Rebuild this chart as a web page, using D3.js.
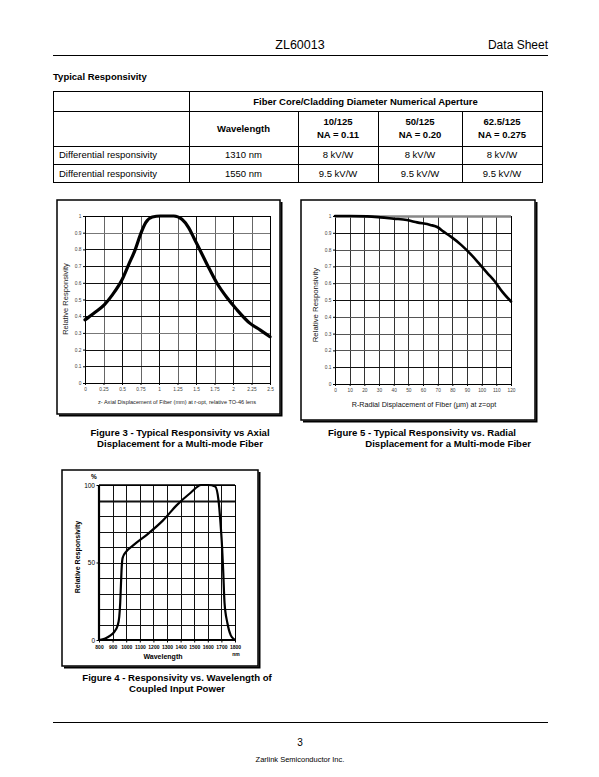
<!DOCTYPE html>
<html><head><meta charset="utf-8">
<script src="https://cdn.jsdelivr.net/npm/d3@7"></script>
<style>
html,body{margin:0;padding:0;background:#fff;}
svg{display:block;font-family:"Liberation Sans",Arial,sans-serif;}
</style></head>
<body>
<svg id="page" width="599" height="777"></svg>
<script>
// ---------- DATA ----------
const tableHeadTop = "Fiber Core/Cladding Diameter Numerical Aperture";
const tableCols = ["", "Wavelength", "10/125|NA = 0.11", "50/125|NA = 0.20", "62.5/125|NA = 0.275"];
const tableRow1 = ["Differential responsivity", "1310 nm", "8 kV/W", "8 kV/W", "8 kV/W"];
const tableRow2 = ["Differential responsivity", "1550 nm", "9.5 kV/W", "9.5 kV/W", "9.5 kV/W"];

// Figure 3: relative responsivity vs axial displacement (mm)
const fig3X = [0, 0.12, 0.26, 0.37, 0.50, 0.59, 0.68, 0.75, 0.82, 0.91, 1.02, 1.20, 1.31, 1.40, 1.47, 1.56, 1.65, 1.78, 1.92, 2.05, 2.23, 2.37, 2.50];
const fig3Y = [0.378, 0.418, 0.468, 0.528, 0.618, 0.709, 0.80, 0.89, 0.96, 0.994, 1.0, 1.0, 0.98, 0.93, 0.87, 0.79, 0.71, 0.60, 0.51, 0.44, 0.357, 0.317, 0.277];
const fig3XTicks = ["0", "0.25", "0.5", "0.75", "1", "1.25", "1.5", "1.75", "2", "2.25", "2.5"];
const fig3YTicks = ["0", "0.1", "0.2", "0.3", "0.4", "0.5", "0.6", "0.7", "0.8", "0.9", "1"];

// Figure 5: relative responsivity vs radial displacement (um)
const fig5X = [0, 10, 22, 31, 40, 49, 56, 65, 70, 74, 79, 86, 93, 99, 104, 109, 114, 120];
const fig5Y = [1.0, 1.0, 0.998, 0.992, 0.984, 0.976, 0.962, 0.947, 0.933, 0.907, 0.877, 0.828, 0.768, 0.709, 0.659, 0.61, 0.55, 0.491];
const fig5XTicks = ["0", "10", "20", "30", "40", "50", "60", "70", "80", "90", "100", "110", "120"];
const fig5YTicks = ["0", "0.1", "0.2", "0.3", "0.4", "0.5", "0.6", "0.7", "0.8", "0.9", "1"];

// Figure 4: relative responsivity (%) vs wavelength (nm)
const fig4X = [800, 846, 885, 910, 936, 949, 956, 962, 967, 974, 1000, 1051, 1167, 1269, 1372, 1474, 1551, 1603, 1654, 1679, 1692, 1705, 1713, 1723, 1744, 1769, 1795];
const fig4Y = [0, 1, 3, 5, 9, 15, 24, 37, 47, 53, 57, 61, 69, 77, 87, 95, 100, 100, 99, 90, 77, 60, 45, 24, 11, 3, 0.4];
const fig4XTicks = ["800", "900", "1000", "1100", "1200", "1300", "1400", "1500", "1600", "1700", "1800"];
const fig4YTicks = ["0", "50", "100"];

// ---------- DRAW ----------
const svg = d3.select("#page");
svg.append("rect").attr("width", 599).attr("height", 777).attr("fill", "#fff");

// page header
svg.append("text").attr("x", 300).attr("y", 49).attr("text-anchor", "middle").attr("font-size", 12.5).text("ZL60013");
svg.append("text").attr("x", 548).attr("y", 49).attr("text-anchor", "end").attr("font-size", 12).text("Data Sheet");
svg.append("line").attr("x1", 53).attr("x2", 548).attr("y1", 55.5).attr("y2", 55.5).attr("stroke", "#000").attr("stroke-width", 1);
svg.append("text").attr("x", 53).attr("y", 80).attr("font-size", 9.5).attr("font-weight", "bold").text("Typical Responsivity");

// table
const colX = [53, 189, 298, 378, 462, 542];
const rowY = [91, 111, 145.5, 164, 182];
const tg = svg.append("g").attr("font-size", 9.5);
tg.append("rect").attr("x", colX[0] + 0.5).attr("y", rowY[0] + 0.5).attr("width", colX[5] - colX[0]).attr("height", rowY[4] - rowY[0])
  .attr("fill", "none").attr("stroke", "#000");
rowY.slice(1, 4).forEach(y => tg.append("line").attr("x1", colX[0]).attr("x2", colX[5]).attr("y1", Math.round(y) + 0.5).attr("y2", Math.round(y) + 0.5).attr("stroke", "#000"));
tg.append("line").attr("x1", colX[1] + 0.5).attr("x2", colX[1] + 0.5).attr("y1", rowY[0]).attr("y2", rowY[4]).attr("stroke", "#000");
[2, 3, 4].forEach(i => tg.append("line").attr("x1", colX[i] + 0.5).attr("x2", colX[i] + 0.5).attr("y1", rowY[1]).attr("y2", rowY[4]).attr("stroke", "#000"));
tg.append("text").attr("x", (colX[1] + colX[5]) / 2).attr("y", (rowY[0] + rowY[1]) / 2 + 3.5).attr("text-anchor", "middle").attr("font-weight", "bold").text(tableHeadTop);
tableCols.forEach((t, i) => {
  if (!t) return;
  const cx = (colX[i] + colX[i + 1]) / 2;
  const parts = t.split("|");
  const cy = (rowY[1] + rowY[2]) / 2;
  parts.forEach((p, j) => {
    tg.append("text").attr("x", cx).attr("y", cy + 3.5 + (j - (parts.length - 1) / 2) * 13)
      .attr("text-anchor", "middle").attr("font-weight", "bold").text(p);
  });
});
[tableRow1, tableRow2].forEach((row, r) => {
  const cy = (rowY[2 + r] + rowY[3 + r]) / 2 + 3.5;
  row.forEach((t, i) => {
    if (i === 0) tg.append("text").attr("x", colX[0] + 6).attr("y", cy).text(t);
    else tg.append("text").attr("x", (colX[i] + colX[i + 1]) / 2).attr("y", cy).attr("text-anchor", "middle").text(t);
  });
});

// framed box with shadow
function frame(x0, y0, x1, y1) {
  svg.append("rect").attr("x", x0).attr("y", y0).attr("width", x1 - x0).attr("height", y1 - y0)
    .attr("fill", "#fff").attr("stroke", "#000").attr("stroke-width", 1.5);
  svg.append("path").attr("d", `M${x1 + 1.5},${y0 + 2}V${y1 + 1.5}H${x0 + 2}`).attr("fill", "none").attr("stroke", "#000").attr("stroke-width", 2);
}

function chart(o) {
  const g = svg.append("g");
  const x = d3.scaleLinear().domain(o.xDomain).range([o.left, o.right]);
  const y = d3.scaleLinear().domain(o.yDomain).range([o.bottom, o.top]);
  const xv = o.xTickVals, yv = o.yGridVals;
  // grid
  g.append("g").selectAll("line").data(xv).join("line")
    .attr("x1", d => Math.round(x(d)) + 0.5).attr("x2", d => Math.round(x(d)) + 0.5)
    .attr("y1", o.top).attr("y2", o.bottom).attr("stroke", (d, i) => o.vColor ? o.vColor(i) : "#222").attr("stroke-width", 1);
  g.append("g").selectAll("line").data(yv).join("line")
    .attr("x1", o.left).attr("x2", o.right)
    .attr("y1", d => Math.round(y(d)) + 0.5).attr("y2", d => Math.round(y(d)) + 0.5)
    .attr("stroke", (d, i) => o.hColor ? o.hColor(i) : "#222").attr("stroke-width", (d, i) => o.hWidth ? o.hWidth(i) : 1);
  // axes
  const xAxis = d3.axisBottom(x).tickValues(xv).tickSize(o.tick).tickFormat((d, i) => o.xLabels[i]);
  const yAxis = d3.axisLeft(y).tickValues(o.yTickVals).tickSize(o.tick).tickFormat((d, i) => o.yLabels[i]);
  const gx = g.append("g").attr("transform", `translate(0,${o.bottom})`).call(xAxis);
  const gy = g.append("g").attr("transform", `translate(${o.left},0)`).call(yAxis);
  [gx, gy].forEach(a => {
    a.select(".domain").remove();
    a.selectAll(".tick line").attr("stroke", "#000");
    a.selectAll("text").attr("font-size", o.tickFont).attr("fill", o.tickColor).attr("font-family", "Liberation Sans, Arial, sans-serif")
      .attr("font-weight", o.tickBold ? "bold" : "normal");
  });
  gx.selectAll("text").attr("dy", "0.71em").attr("y", o.tick + 2.5);
  gy.selectAll("text").attr("x", -o.tick - 1.5);
  // plot border
  g.append("rect").attr("x", o.left + 0.5).attr("y", o.top + 0.5).attr("width", o.right - o.left).attr("height", o.bottom - o.top)
    .attr("fill", "none").attr("stroke", "#000").attr("stroke-width", 1);
  if (o.extra) o.extra(g, x, y);
  // curve
  const line = d3.line().x(d => x(d[0])).y(d => y(d[1])).curve(d3.curveMonotoneX);
  g.append("path").datum(o.xs.map((v, i) => [v, o.ys[i]])).attr("d", line)
    .attr("fill", "none").attr("stroke", "#000").attr("stroke-width", o.curveWidth).attr("stroke-linejoin", "round").attr("stroke-linecap", "round");
  return { g, x, y };
}

// ---------- Figure 3 ----------
frame(57, 200, 280, 414);
chart({
  left: 85, right: 270, top: 216, bottom: 383,
  xDomain: [0, 2.5], yDomain: [0, 1],
  xTickVals: fig3XTicks.map(Number), xLabels: fig3XTicks,
  yTickVals: fig3YTicks.map(Number), yLabels: fig3YTicks, yGridVals: fig3YTicks.map(Number),
  hColor: i => (i === 9 || i === 3) ? "#777" : "#111",
  vColor: i => (i % 2 === 1) ? "#666" : "#111",
  tick: 2, tickFont: 4.8, tickColor: "#444",
  xs: fig3X, ys: fig3Y, curveWidth: 3.2
});
svg.append("text").attr("x", 177).attr("y", 404).attr("text-anchor", "middle").attr("font-size", 5.6).attr("fill", "#222")
  .text("z- Axial Displacement of Fiber (mm) at r-opt, relative TO-46 lens");
svg.append("text").attr("transform", "translate(68,299) rotate(-90)").attr("text-anchor", "middle").attr("font-size", 7.5).attr("fill", "#222")
  .text("Relative Responsivity");

// ---------- Figure 5 ----------
frame(301, 200, 535, 420);
chart({
  left: 335, right: 511, top: 216, bottom: 384,
  xDomain: [0, 120], yDomain: [0, 1],
  xTickVals: fig5XTicks.map(Number), xLabels: fig5XTicks,
  yTickVals: fig5YTicks.map(Number), yLabels: fig5YTicks, yGridVals: fig5YTicks.map(Number),
  hColor: i => (i === 1 || i === 9 || i === 5) ? "#111" : "#555",
  vColor: i => "#333",
  tick: 2, tickFont: 4.8, tickColor: "#444",
  xs: fig5X, ys: fig5Y, curveWidth: 2.6,
  extra: (g, x, y) => g.append("line").attr("x1", x(0)).attr("x2", x(120)).attr("y1", y(1) + 0.5).attr("y2", y(1) + 0.5)
    .attr("stroke", "#888").attr("stroke-width", 2.5)
});
svg.append("text").attr("x", 424).attr("y", 407).attr("text-anchor", "middle").attr("font-size", 7.2).attr("fill", "#111")
  .text("R-Radial Displacement of Fiber (\u03BCm) at z=opt");
svg.append("text").attr("transform", "translate(318,305) rotate(-90)").attr("text-anchor", "middle").attr("font-size", 7.8).attr("fill", "#111")
  .text("Relative Responsivity");

// ---------- Figure 4 ----------
frame(62, 470, 258, 666);
const f4 = chart({
  left: 99, right: 235, top: 485, bottom: 640,
  xDomain: [800, 1800], yDomain: [0, 100],
  xTickVals: fig4XTicks.map(Number), xLabels: fig4XTicks,
  yTickVals: fig4YTicks.map(Number), yLabels: fig4YTicks, yGridVals: [10, 20, 30, 40, 50, 60, 70, 80, 90],
  hWidth: i => i === 8 ? 2.2 : 1,
  hColor: i => "#111",
  vColor: i => "#111",
  tick: 2.5, tickFont: 5, tickColor: "#000", tickBold: true,
  xs: fig4X, ys: fig4Y, curveWidth: 2.2,
  extra: (g, x, y) => {
    g.append("line").attr("x1", x(800)).attr("x2", x(800)).attr("y1", y(100)).attr("y2", y(0)).attr("stroke", "#000").attr("stroke-width", 2.2);
    g.append("line").attr("x1", x(800)).attr("x2", x(1800)).attr("y1", y(0)).attr("y2", y(0)).attr("stroke", "#000").attr("stroke-width", 2);
    g.append("line").attr("x1", x(800)).attr("x2", x(1800)).attr("y1", y(100)).attr("y2", y(100)).attr("stroke", "#000").attr("stroke-width", 1.5);
  }
});
f4.g.selectAll("text").filter(function () { return this.textContent && /^(0|50|100)$/.test(this.textContent) && d3.select(this.parentNode.parentNode).attr("transform").startsWith("translate(99"); })
  .attr("font-weight", "normal").attr("font-size", 6.5);
svg.append("text").attr("x", 94).attr("y", 479).attr("text-anchor", "middle").attr("font-size", 6.5).attr("font-weight", "bold").text("%");
svg.append("text").attr("x", 236).attr("y", 656).attr("text-anchor", "middle").attr("font-size", 5).attr("font-weight", "bold").text("nm");
svg.append("text").attr("x", 163).attr("y", 659).attr("text-anchor", "middle").attr("font-size", 7).attr("font-weight", "bold").text("Wavelength");
svg.append("text").attr("transform", "translate(80,557) rotate(-90)").attr("text-anchor", "middle").attr("font-size", 7).attr("font-weight", "bold")
  .text("Relative Responsivity");

// ---------- captions ----------
const cap = svg.append("g").attr("font-size", 9.6).attr("font-weight", "bold");
cap.append("text").attr("x", 180).attr("y", 436).attr("text-anchor", "middle").text("Figure 3 - Typical Responsivity vs Axial");
cap.append("text").attr("x", 180).attr("y", 447).attr("text-anchor", "middle").text("Displacement for a Multi-mode Fiber");
cap.append("text").attr("x", 328).attr("y", 436).text("Figure 5 - Typical Responsivity vs. Radial");
cap.append("text").attr("x", 531).attr("y", 447).attr("text-anchor", "end").text("Displacement for a Multi-mode Fiber");
cap.append("text").attr("x", 177).attr("y", 681).attr("text-anchor", "middle").text("Figure 4 - Responsivity vs. Wavelength of");
cap.append("text").attr("x", 177).attr("y", 692).attr("text-anchor", "middle").text("Coupled Input Power");

// ---------- footer ----------
svg.append("line").attr("x1", 53).attr("x2", 548).attr("y1", 722.5).attr("y2", 722.5).attr("stroke", "#000").attr("stroke-width", 1);
svg.append("text").attr("x", 300).attr("y", 746).attr("text-anchor", "middle").attr("font-size", 10).text("3");
svg.append("text").attr("x", 300).attr("y", 762).attr("text-anchor", "middle").attr("font-size", 7.5).text("Zarlink Semiconductor Inc.");
</script>
</body></html>
